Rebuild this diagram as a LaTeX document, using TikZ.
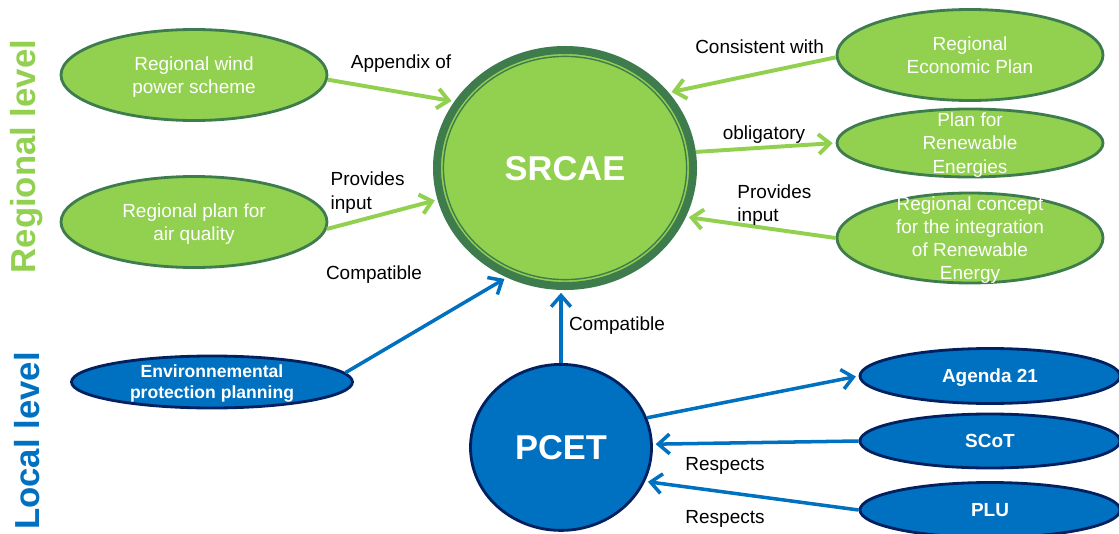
\documentclass[tikz,border=0pt]{standalone}
\usepackage{fontspec}
\setmainfont{Liberation Sans}
\usepackage{xcolor}
\usetikzlibrary{shapes.geometric, arrows.meta, positioning}

\definecolor{leafgreen}{RGB}{146,208,80}
\definecolor{darkgreen}{RGB}{62,124,78}
\definecolor{localblue}{RGB}{0,112,192}
\definecolor{navyblue}{RGB}{0,32,96}

\begin{document}
\begin{tikzpicture}[
    every node/.style={font=\fontsize{13.5}{16.5}\selectfont},
    regional/.style={ellipse, draw=darkgreen, line width=2pt, fill=leafgreen, text=white, minimum width=6.65cm, minimum height=2.275cm, align=center, inner xsep=0pt, inner ysep=-12pt, text depth=0pt},
    local/.style={ellipse, draw=navyblue, line width=2pt, fill=localblue, text=white, font=\fontsize{13.5}{16}\selectfont\bfseries, minimum width=6.5cm, minimum height=1.375cm, align=center, inner xsep=0pt, inner ysep=-8pt, text depth=0pt},
    greenarrow/.style={-{Straight Barb[length=8pt, width=14pt]}, draw=leafgreen, line width=2.8pt, shorten >=2pt},
    bluearrow/.style={-{Straight Barb[length=8pt, width=14pt]}, draw=localblue, line width=2.5pt, shorten >=2pt},
    flowtext/.style={align=left},
    level/.style={rotate=90, font=\fontsize{24.7}{28}\selectfont\bfseries}
]
\useasboundingbox (0,0) rectangle (27.975,13.325);

% Level titles
\node[level, text=leafgreen] (regional-title) at (0.675, 9.41) {Regional level};
\node[level, text=localblue] (local-title) at (0.675, 2.3) {Local level};

% Central plans
\node[ellipse, draw=darkgreen, line width=5.7pt, fill=leafgreen, text=white, minimum width=6.4cm, minimum height=5.9cm, text depth=0pt, font=\fontsize{24.5}{28}\selectfont\bfseries] (srcae) at (14.125, 9.125) {SRCAE};
\draw[darkgreen, line width=1pt] (srcae.center) ellipse [x radius=3.04cm, y radius=2.79cm];
\node[ellipse, draw=navyblue, line width=2pt, fill=localblue, text=white, minimum width=4.525cm, minimum height=4.15cm, text depth=0pt, font=\fontsize{24.5}{28}\selectfont\bfseries] (pcet) at (14.025, 2.14) {PCET};

% Regional plans
\node[regional] (wind) at (4.85, 11.45) {Regional wind\\power scheme};
\node[regional] (airq) at (4.85, 7.775) {Regional plan for\\air quality};
\node[regional] (econ) at (24.25, 11.95) {Regional\\Economic Plan};
\node[regional, minimum height=1.7cm] (replan) at (24.25, 9.75) {Plan for\\Renewable\\Energies};
\node[regional, minimum height=2.25cm] (concept) at (24.25, 7.375) {Regional concept\\for the integration\\of Renewable\\Energy};

% Local plans
\node[local, font=\fontsize{12.5}{15}\selectfont\bfseries, minimum width=7.025cm, minimum height=1.3cm] (env) at (5.3, 3.775) {Environnemental\\protection planning};
\node[local] (agenda) at (24.75, 3.925) {Agenda 21};
\node[local, minimum height=1.35cm] (scot) at (24.75, 2.3) {SCoT};
\node[local] (plu) at (24.75, 0.575) {PLU};

% Regional connections
\draw[greenarrow] (wind.-2) -- (srcae.149);
\draw[greenarrow] (airq.-3) -- (srcae.194);
\draw[greenarrow] (econ.181) -- (srcae.36);
\draw[greenarrow] (srcae.7) -- (replan.west);
\draw[greenarrow] (concept.west) -- (srcae.-22);

% Local connections
\draw[bluearrow] (env.4) -- (srcae.242);
\draw[bluearrow] (pcet.north) -- (pcet.north |- srcae.south);
\draw[bluearrow] (pcet.19) -- (agenda.west);
\foreach \from/\to in {scot/2, plu/-22}
    \draw[bluearrow] (\from.west) -- (pcet.\to);

% Labels for relations
\node[flowtext] (appendix) at (10.025, 11.725) {Appendix of};
\node[flowtext] (input-left) at (9.19, 8.51) {Provides\\input};
\node[flowtext] (compat-left) at (9.35, 6.45) {Compatible};
\node[flowtext] (consistent) at (18.99, 12.15) {Consistent with};
\node[flowtext] (obligatory) at (19.1, 9.95) {obligatory};
\node[flowtext] (input-right) at (19.36, 8.2) {Provides\\input};
\node[flowtext] (compat-pcet) at (15.425, 5.175) {Compatible};
\node[flowtext] (respects-scot) at (18.125, 1.675) {Respects};
\node[flowtext] (respects-plu) at (18.125, 0.35) {Respects};

\end{tikzpicture}
\end{document}
